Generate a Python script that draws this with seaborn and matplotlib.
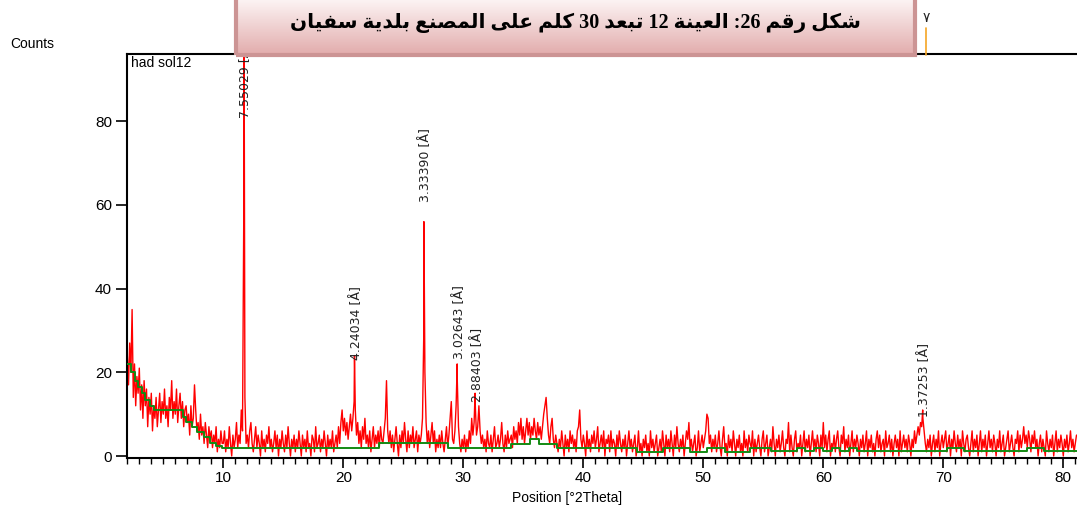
import re

import numpy as np
import pandas as pd
import matplotlib
matplotlib.use("Agg")
import matplotlib.pyplot as plt
import matplotlib.transforms as mtransforms
from matplotlib.lines import Line2D
from matplotlib.patches import Rectangle
from matplotlib.ticker import MultipleLocator
import seaborn as sns

# ---------------------------------------------------------------------------
# Measured pattern: counts on a 0.1 deg 2-theta grid starting at 2.0 deg
# ---------------------------------------------------------------------------
scan_start = 2.0
scan_step = 0.1

counts_02_10 = [24, 17, 27, 20, 35, 14, 22, 12, 19, 15,
                21, 11, 17, 9, 18, 12, 16, 7, 14, 10,
                15, 6, 12, 9, 14, 7, 11, 15, 8, 13,
                10, 16, 9, 12, 7, 14, 11, 18, 9, 13,
                10, 16, 8, 12, 15, 9, 13, 7, 11, 12,
                8, 10, 5, 12, 7, 9, 17, 11, 6, 8,
                4, 10, 5, 7, 3, 8, 5, 2, 7, 4,
                6, 2, 5, 3, 7, 1, 4, 2, 6, 3]
counts_10_20 = [3, 6, 1, 4, 2, 7, 3, 0, 5, 2,
                4, 8, 2, 5, 3, 11, 6, 55, 14, 3,
                5, 2, 6, 8, 3, 1, 4, 7, 2, 5,
                3, 0, 6, 2, 4, 1, 5, 3, 7, 2,
                4, 1, 3, 6, 2, 5, 0, 4, 2, 6,
                3, 1, 5, 2, 7, 3, 0, 4, 2, 5,
                1, 4, 2, 6, 3, 0, 5, 2, 4, 1,
                6, 2, 3, 0, 5, 4, 1, 7, 2, 3,
                5, 1, 4, 2, 6, 3, 0, 5, 2, 4,
                2, 6, 1, 3, 5, 2, 7, 3, 8, 11]
counts_20_30 = [6, 9, 5, 8, 4, 7, 10, 6, 9, 13,
                11, 5, 8, 3, 6, 2, 7, 4, 9, 3,
                5, 2, 6, 1, 4, 7, 2, 5, 3, 6,
                2, 7, 4, 3, 6, 9, 18, 6, 3, 6,
                2, 5, 1, 4, 7, 3, 0, 5, 2, 6,
                3, 8, 4, 1, 6, 2, 5, 3, 7, 2,
                4, 6, 1, 5, 3, 5, 9, 28, 20, 8,
                3, 6, 2, 5, 8, 3, 6, 1, 4, 2,
                5, 2, 6, 3, 1, 4, 7, 2, 5, 9,
                13, 4, 3, 6, 12, 18, 7, 3, 1, 4]
counts_30_40 = [2, 5, 1, 4, 2, 6, 3, 9, 5, 8,
                12, 5, 7, 12, 6, 3, 5, 2, 4, 1,
                6, 3, 2, 5, 1, 4, 7, 2, 3, 5,
                2, 4, 8, 3, 1, 5, 2, 6, 3, 4,
                5, 2, 7, 4, 6, 3, 8, 5, 9, 4,
                7, 3, 6, 9, 5, 8, 4, 7, 5, 9,
                6, 4, 8, 5, 7, 4, 7, 10, 12, 14,
                9, 5, 3, 7, 9, 4, 2, 5, 3, 1,
                4, 2, 6, 3, 0, 5, 2, 4, 1, 6,
                3, 5, 2, 4, 1, 6, 7, 11, 4, 2]
counts_40_50 = [5, 3, 0, 6, 2, 4, 1, 5, 3, 6,
                2, 4, 7, 1, 3, 5, 2, 6, 0, 4,
                3, 5, 1, 6, 2, 4, 3, 0, 5, 2,
                6, 3, 1, 4, 2, 5, 0, 3, 6, 2,
                4, 1, 3, 5, 0, 2, 6, 1, 3, 0,
                4, 2, 5, 1, 3, 0, 6, 2, 4, 1,
                3, 5, 0, 2, 4, 1, 6, 3, 0, 5,
                2, 4, 1, 6, 3, 0, 5, 2, 7, 3,
                1, 4, 2, 5, 0, 3, 6, 4, 8, 2,
                4, 1, 3, 5, 0, 2, 6, 1, 3, 5]
counts_50_60 = [2, 4, 6, 10, 9, 3, 5, 1, 4, 2,
                5, 1, 3, 6, 2, 0, 4, 7, 2, 3,
                0, 5, 2, 4, 1, 6, 3, 0, 4, 2,
                5, 1, 3, 0, 6, 2, 4, 1, 5, 3,
                2, 6, 0, 4, 1, 3, 5, 2, 0, 4,
                6, 1, 3, 5, 0, 2, 4, 1, 7, 3,
                0, 4, 2, 5, 1, 3, 6, 2, 0, 4,
                3, 8, 1, 5, 2, 0, 4, 6, 1, 3,
                2, 5, 0, 3, 6, 1, 4, 2, 5, 0,
                3, 6, 2, 4, 1, 5, 3, 0, 5, 2]
counts_60_70 = [8, 2, 5, 1, 4, 6, 0, 3, 2, 5,
                1, 4, 6, 2, 0, 5, 3, 7, 1, 4,
                2, 5, 0, 3, 6, 1, 4, 2, 5, 3,
                0, 4, 2, 5, 1, 3, 6, 0, 4, 2,
                5, 1, 3, 0, 4, 6, 2, 5, 1, 3,
                4, 0, 6, 2, 3, 5, 1, 4, 0, 3,
                5, 2, 4, 0, 6, 1, 3, 5, 2, 4,
                1, 5, 3, 0, 4, 2, 6, 3, 5, 7,
                5, 8, 7, 9, 6, 3, 1, 4, 2, 5,
                0, 3, 5, 1, 4, 2, 6, 0, 3, 5]
counts_70_81 = [2, 4, 6, 1, 3, 5, 0, 4, 2, 6,
                3, 1, 5, 2, 4, 0, 6, 3, 1, 4,
                5, 2, 0, 3, 6, 1, 4, 2, 5, 0,
                3, 6, 1, 4, 2, 5, 0, 3, 6, 2,
                4, 1, 5, 3, 0, 4, 2, 6, 1, 3,
                5, 0, 2, 4, 6, 1, 3, 5, 2, 0,
                4, 3, 6, 1, 5, 2, 4, 7, 3, 5,
                2, 6, 4, 1, 5, 3, 6, 2, 4, 0,
                3, 5, 1, 4, 2, 0, 6, 3, 1, 4,
                2, 5, 0, 3, 6, 1, 4, 2, 5, 3,
                0, 4, 2, 5, 1, 3, 6, 2, 4, 1,
                3, 5]

# Identified reflections: d-spacing [A] and apex counts
peak_d_spacings = [7.55029, 4.24034, 3.33390, 3.02643, 2.88403, 1.37253]
peak_counts = [130, 24, 56, 22, 15, 11]
wavelength = 1.5406  # Cu K-alpha1, Angstrom

# Fitted background (step levels starting at each edge)
background_edges = [2.0, 2.3, 2.6, 2.9, 3.2, 3.5, 3.9, 4.2, 6.6, 6.9,
                    7.4, 7.8, 8.35, 8.9, 9.4, 9.9, 23.0, 28.7, 34.0, 35.55,
                    36.3, 37.8, 44.45, 46.65, 48.9, 50.3, 51.8, 53.9, 55.6, 57.8,
                    58.5, 59.2, 60.0, 60.7, 61.4, 62.1, 62.8, 70.3, 71.7, 77.0,
                    78.4, 81.2]
background_levels = [22, 20, 18, 16.5, 15, 13.5, 12, 11, 9.4, 8.2,
                     7.0, 5.8, 4.6, 3.0, 2.4, 1.8, 3.0, 1.8, 2.9, 4.0,
                     2.9, 1.8, 1.0, 1.8, 1.0, 1.8, 1.0, 1.8, 1.1, 1.8,
                     1.1, 1.8, 1.1, 1.8, 1.1, 1.8, 1.1, 1.8, 1.1, 1.8,
                     1.1, 1.1]

sample_name = "had sol12"
x_label = "Position [°2Theta]"
y_label = "Counts"
x_ticks = [10, 20, 30, 40, 50, 60, 70, 80]
y_ticks = [0, 20, 40, 60, 80]
caption = "شكل رقم 26: العينة 12 تبعد 30 كلم على المصنع بلدية سفيان"
page_number = "٧"

# ---------------------------------------------------------------------------
# Arabic contextual shaping + right-to-left ordering for the caption
# (isolated, final, initial, medial presentation forms)
# ---------------------------------------------------------------------------
ARABIC_FORMS = {
    "\u0627": ("\ufe8d", "\ufe8e", None, None),
    "\u0628": ("\ufe8f", "\ufe90", "\ufe91", "\ufe92"),
    "\u0629": ("\ufe93", "\ufe94", None, None),
    "\u062a": ("\ufe95", "\ufe96", "\ufe97", "\ufe98"),
    "\u062f": ("\ufea9", "\ufeaa", None, None),
    "\u0631": ("\ufead", "\ufeae", None, None),
    "\u0633": ("\ufeb1", "\ufeb2", "\ufeb3", "\ufeb4"),
    "\u0634": ("\ufeb5", "\ufeb6", "\ufeb7", "\ufeb8"),
    "\u0635": ("\ufeb9", "\ufeba", "\ufebb", "\ufebc"),
    "\u0639": ("\ufec9", "\ufeca", "\ufecb", "\ufecc"),
    "\u0641": ("\ufed1", "\ufed2", "\ufed3", "\ufed4"),
    "\u0642": ("\ufed5", "\ufed6", "\ufed7", "\ufed8"),
    "\u0643": ("\ufed9", "\ufeda", "\ufedb", "\ufedc"),
    "\u0644": ("\ufedd", "\ufede", "\ufedf", "\ufee0"),
    "\u0645": ("\ufee1", "\ufee2", "\ufee3", "\ufee4"),
    "\u0646": ("\ufee5", "\ufee6", "\ufee7", "\ufee8"),
    "\u0649": ("\ufeef", "\ufef0", "\ufbe8", "\ufbe9"),
    "\u064a": ("\ufef1", "\ufef2", "\ufef3", "\ufef4"),
}


def shape_arabic(piece):
    out = []
    for i, ch in enumerate(piece):
        forms = ARABIC_FORMS.get(ch)
        if forms is None:
            out.append(ch)
            continue
        prev = piece[i - 1] if i > 0 else ""
        nxt = piece[i + 1] if i + 1 < len(piece) else ""
        join_prev = prev in ARABIC_FORMS and ARABIC_FORMS[prev][2] is not None
        join_next = forms[2] is not None and nxt in ARABIC_FORMS
        if join_prev and join_next:
            out.append(forms[3])
        elif join_prev:
            out.append(forms[1])
        elif join_next:
            out.append(forms[2])
        else:
            out.append(forms[0])
    return "".join(out)


def visual_rtl(text):
    pieces = [p for p in re.split(r"(\d+)", text) if p]
    shown = []
    for p in reversed(pieces):
        shown.append(p if p.isdigit() else shape_arabic(p)[::-1])
    return "".join(shown)


# ---------------------------------------------------------------------------
# Assemble data
# ---------------------------------------------------------------------------
counts = np.array(counts_02_10 + counts_10_20 + counts_20_30 + counts_30_40
                  + counts_40_50 + counts_50_60 + counts_60_70 + counts_70_81, float)
grid = scan_start + scan_step * np.arange(len(counts))
peak_positions = 2 * np.degrees(np.arcsin(wavelength / (2 * np.array(peak_d_spacings))))

scan = pd.DataFrame({
    "two_theta": np.concatenate([grid, peak_positions]),
    "counts": np.concatenate([counts, peak_counts]),
}).sort_values("two_theta").reset_index(drop=True)

background = pd.DataFrame({"two_theta": background_edges, "counts": background_levels})

# ---------------------------------------------------------------------------
# Figure
# ---------------------------------------------------------------------------
sns.set_theme(style="ticks")
plt.rcParams["font.family"] = ["Liberation Sans", "DejaVu Sans"]
plt.rcParams["text.color"] = "black"
plt.rcParams["xtick.color"] = "black"
plt.rcParams["ytick.color"] = "black"
plt.rcParams["axes.edgecolor"] = "black"

W, H = 1077, 513
fig = plt.figure(figsize=(W / 100, H / 100), dpi=100)
fig.patch.set_facecolor("white")

ax_left, ax_right, ax_top, ax_bottom = 127.3, 1077, 54, 457.5
ax = fig.add_axes([ax_left / W, 1 - ax_bottom / H, (ax_right - ax_left) / W, (ax_bottom - ax_top) / H])
ax.set_facecolor("white")

sns.lineplot(data=scan, x="two_theta", y="counts", ax=ax, color="#ff0000",
             linewidth=1.0, estimator=None, sort=False, zorder=2)
sns.lineplot(data=background, x="two_theta", y="counts", ax=ax, color="#138a13",
             linewidth=1.4, estimator=None, sort=False, drawstyle="steps-post", zorder=3)

px_per_deg = 12.0
ax.set_xlim(scan_start, scan_start + (ax_right - ax_left) / px_per_deg)
px_per_count = 83.7 / 20
ax.set_ylim(-(ax_bottom - 456) / px_per_count, (456 - ax_top) / px_per_count)

ax.set_xticks(x_ticks)
ax.xaxis.set_minor_locator(MultipleLocator(1))
ax.set_yticks(y_ticks)
ax.tick_params(axis="x", which="major", length=7, width=1.2, direction="out", labelsize=11, pad=3)
ax.tick_params(axis="x", which="minor", length=4, width=1.0, direction="out")
ax.tick_params(axis="y", which="major", length=8, width=1.2, direction="out", labelsize=11, pad=3)
ax.set_xlabel("")
ax.set_ylabel("")
for side in ("left", "bottom", "top"):
    ax.spines[side].set_linewidth(1.5)
    ax.spines[side].set_color("black")
ax.spines["right"].set_visible(False)

# Reflection labels (d-spacing), rotated above each apex
label_bottoms = [80.8, 23.0, 60.8, 23.2, 13.0, 9.3]
nudge = mtransforms.ScaledTranslation(2 / 100, 0, fig.dpi_scale_trans)
for d, x, yb in zip(peak_d_spacings, peak_positions, label_bottoms):
    ax.text(x, yb, f"{d:.5f} [Å]", rotation=90, ha="center", va="bottom",
            fontsize=9, color="#222222", family=["Liberation Sans Narrow", "DejaVu Sans"],
            transform=ax.transData + nudge, zorder=4)

fig.text(131 / W, 1 - 63 / H, sample_name, ha="left", va="center", fontsize=10)
fig.text(10 / W, 1 - 44 / H, y_label, ha="left", va="center", fontsize=10)
fig.text(567 / W, 1 - 498 / H, x_label, ha="center", va="center", fontsize=10)

# Caption banner with vertical pink gradient
b_left, b_right, b_bottom = 236, 915, 55
bax = fig.add_axes([b_left / W, 1 - b_bottom / H, (b_right - b_left) / W, b_bottom / H], zorder=10)
top_rgb = np.array([252, 243, 243]) / 255
bottom_rgb = np.array([226, 172, 172]) / 255
t = np.linspace(0, 1, 64)[:, None, None]
gradient = top_rgb * (1 - t) + bottom_rgb * t
gradient = np.repeat(gradient, 2, axis=1)
bax.imshow(gradient, aspect="auto", extent=[0, 1, 0, 1], interpolation="bilinear")
bax.set_xlim(0, 1)
bax.set_ylim(0, 1)
bax.set_axis_off()
bax.add_patch(Rectangle((0, 0), 1, 1.05, transform=bax.transAxes, fill=False,
                        edgecolor="#cc9494", linewidth=3.0, clip_on=False))
bax.text(0.5, 0.58, visual_rtl(caption), ha="center", va="center", fontsize=14.5,
         fontweight="bold", family=["Liberation Serif", "DejaVu Sans"], color="black")

# Page number with its marker line
fig.text(926 / W, 1 - 18 / H, page_number, ha="center", va="center", fontsize=10,
         family=["DejaVu Sans"], color="#222222")
fig.add_artist(Line2D([926 / W, 926 / W], [1 - 28 / H, 1 - 55 / H],
                      transform=fig.transFigure, color="#f5a524", linewidth=1.2))

fig.savefig("out.png", dpi=100)
